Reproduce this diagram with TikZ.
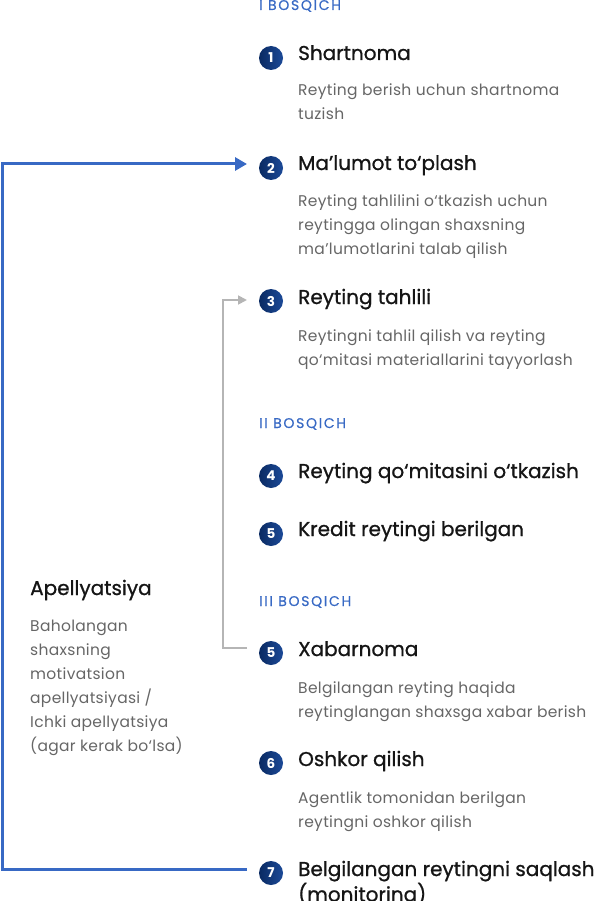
\documentclass[tikz,border=0pt]{standalone}
\usepackage{fontspec}
\setmainfont{Poppins}
\newfontfamily\capsfont[LetterSpace=12,FakeBold=0.5]{Poppins}
\newfontfamily\titlefont[FakeBold=0.9]{Poppins}
\newfontfamily\descfont[LetterSpace=2]{Poppins}
\usetikzlibrary{arrows.meta}
\definecolor{lineblue}{HTML}{3869C4}
\definecolor{navyA}{HTML}{0A2A62}
\definecolor{navyB}{HTML}{1C4A98}
\definecolor{titlecol}{HTML}{151515}
\definecolor{desccol}{HTML}{666666}
\definecolor{graycon}{HTML}{B5B5B5}
\newcommand{\stack}[1]{\begin{tabular}[t]{@{}l@{}}#1\end{tabular}}
\tikzset{
  stagelbl/.style={anchor=base west, inner sep=0pt, text=lineblue, font=\capsfont\fontsize{14}{15}\selectfont},
  numdot/.style={circle, minimum size=24pt, inner sep=0pt, left color=navyA, right color=navyB, text=white, font=\fontsize{13.5}{13.5}\selectfont\bfseries},
  steptitle/.style={anchor=base west, inner sep=0pt, text=titlecol, font=\titlefont\fontsize{20}{22.5}\selectfont},
  stepdesc/.style={anchor=base west, inner sep=0pt, text=desccol, font=\descfont\fontsize{15.5}{24}\selectfont}
}
\tikzset{
  blueconn/.style={draw=lineblue, line width=3pt, -{Triangle[length=12pt,width=13pt]}},
  grayconn/.style={draw=graycon, line width=1.8pt, -{Triangle[length=9pt,width=9pt]}}
}
\begin{document}
\begin{tikzpicture}[x=1pt,y=-1pt]
\useasboundingbox (0,0) rectangle (602,901);
% stage labels
\node[stagelbl] (s1) at (259,10) {I BOSQICH};
\node[stagelbl] (s2) at (259,428) {II BOSQICH};
\node[stagelbl] (s3) at (259,606) {III BOSQICH};
% step 1
\node[numdot] (c1) at (271,58) {1};
\node[steptitle] (t1) at (298,60) {Shartnoma};
\node[stepdesc] (d1) at (298,96) {\stack{Reyting berish uchun shartnoma\\tuzish}};
% step 2
\node[numdot] (c2) at (271,168) {2};
\node[steptitle] (t2) at (298,170) {Ma’lumot to‘plash};
\node[stepdesc] (d2) at (298,207) {\stack{Reyting tahlilini o‘tkazish uchun\\reytingga olingan shaxsning\\ma’lumotlarini talab qilish}};
% step 3
\node[numdot] (c3) at (271,301) {3};
\node[steptitle] (t3) at (298,304) {Reyting tahlili};
\node[stepdesc] (d3) at (298,341) {\stack{Reytingni tahlil qilish va reyting\\qo‘mitasi materiallarini tayyorlash}};
% step 4
\node[numdot] (c4) at (271,476) {4};
\node[steptitle] (t4) at (298,478) {Reyting qo‘mitasini o‘tkazish};
% step 5
\node[numdot] (c5) at (271,534) {5};
\node[steptitle] (t5) at (298,536) {Kredit reytingi berilgan};
% step 5b
\node[numdot] (c5b) at (271,653) {5};
\node[steptitle] (t5b) at (298,656) {Xabarnoma};
\node[stepdesc] (d5b) at (298,693) {\stack{Belgilangan reyting haqida\\reytinglangan shaxsga xabar berish}};
% step 6
\node[numdot] (c6) at (271,763) {6};
\node[steptitle] (t6) at (298,766) {Oshkor qilish};
\node[stepdesc] (d6) at (298,803) {\stack{Agentlik tomonidan berilgan\\reytingni oshkor qilish}};
% step 7
\node[numdot] (c7) at (271,873) {7};
\node[steptitle] (t7) at (298,876) {\stack{Belgilangan reytingni saqlash\\(monitoring)}};
% appeal
\node[steptitle] (ta) at (30,595) {Apellyatsiya};
\node[stepdesc] (da) at (30,631) {\stack{Baholangan\\shaxsning\\motivatsion\\apellyatsiyasi /\\Ichki apellyatsiya\\(agar kerak bo‘lsa)}};
% connectors
\coordinate (bstart) at (247,869);
\coordinate (bend) at (247,164);
\draw[blueconn] (bstart) -- (2,869) -- (2,164) -- (bend);
\coordinate (gstart) at (247,648);
\coordinate (gend) at (247,300);
\draw[grayconn] (gstart) -- (223,648) -- (223,300) -- (gend);
\end{tikzpicture}
\end{document}
